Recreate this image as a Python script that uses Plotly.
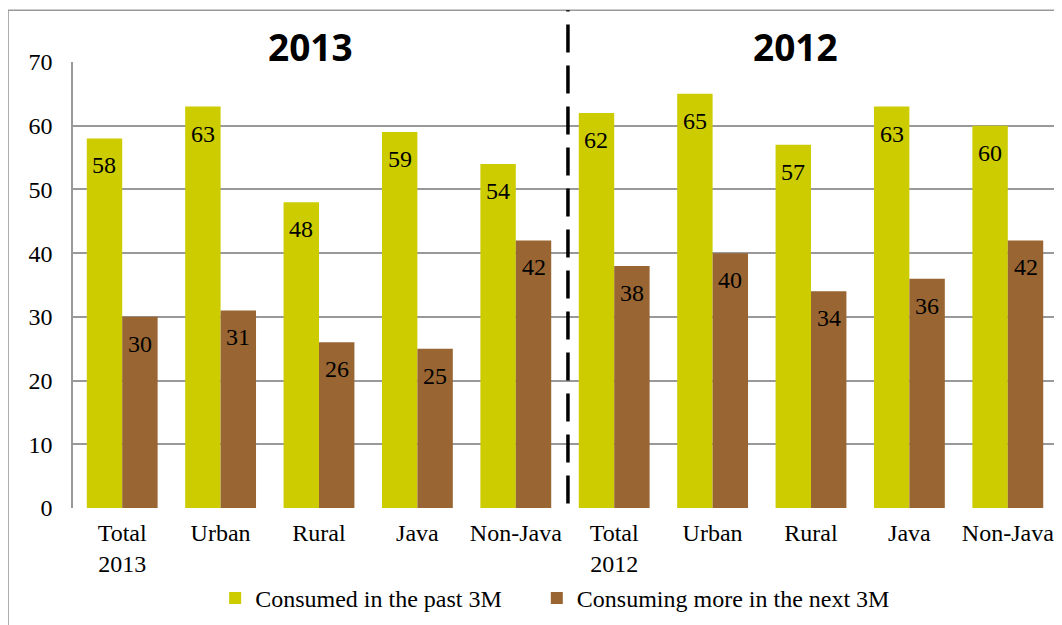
import plotly.graph_objects as go

categories = ["Total<br>2013", "Urban", "Rural", "Java", "Non-Java",
              "Total<br>2012", "Urban", "Rural", "Java", "Non-Java"]
consumed_past = [58, 63, 48, 59, 54, 62, 65, 57, 63, 60]
consuming_next = [30, 31, 26, 25, 42, 38, 40, 34, 36, 42]
y_ticks = [0, 10, 20, 30, 40, 50, 60, 70]
series_names = ["Consumed in the past 3M", "Consuming more in the next 3M"]

xpos = list(range(len(categories)))
serif = "Liberation Serif, Times New Roman, serif"
FS = 24
BARGAP = 0.28
half = (1 - BARGAP) / 4  # offset of each bar centre from category centre

fig = go.Figure()
fig.add_trace(go.Bar(
    x=xpos, y=consumed_past, name=series_names[0] + "\u00a0" * 5,
    marker=dict(color="#CCCC00", line=dict(width=0)),
))
fig.add_trace(go.Bar(
    x=xpos, y=consuming_next, name=series_names[1],
    marker=dict(color="#996633", line=dict(width=0)),
))

# value labels inside the top of each bar
for i in xpos:
    for val, dx in [(consumed_past[i], -half), (consuming_next[i], half)]:
        fig.add_annotation(x=i + dx, y=val, xref="x", yref="y", text=str(val),
                           showarrow=False, yshift=-27, xanchor="center", yanchor="middle",
                           font=dict(family=serif, size=FS, color="black"))

fig.update_layout(
    width=1054, height=617,
    margin=dict(l=65, r=5, t=54, b=116),
    paper_bgcolor="white", plot_bgcolor="white",
    barmode="group", bargap=BARGAP, bargroupgap=0,
    font=dict(family=serif, size=FS, color="black"),
    showlegend=True,
    legend=dict(orientation="h", x=0.49, xanchor="center", y=-0.2, yanchor="middle",
                font=dict(family=serif, size=FS), itemwidth=30, traceorder="normal"),
)
fig.update_xaxes(
    tickmode="array", tickvals=xpos, ticktext=categories,
    range=[-0.5, len(categories) - 0.5], showgrid=False, zeroline=False,
    showline=False, ticks="", tickfont=dict(family=serif, size=FS), ticklabelstandoff=8,
)
fig.update_yaxes(
    range=[0, 70], tickvals=y_ticks, showgrid=True, gridcolor="#999999", gridwidth=1.5,
    zeroline=False, showline=True, linecolor="#999999", linewidth=1.5,
    ticks="", tickfont=dict(family=serif, size=FS), ticklabelstandoff=14,
)
# outer chart border
fig.add_shape(type="line", xref="paper", yref="paper", x0=-0.066, x1=-0.066, y0=-0.3, y1=1.116,
              line=dict(color="#999999", width=1.5))
fig.add_shape(type="line", xref="paper", yref="paper", x0=-0.066, x1=1.01, y0=1.116, y1=1.116,
              line=dict(color="#999999", width=1.5))
# dashed separator
fig.add_shape(type="line", xref="x", yref="paper", x0=4.53, x1=4.53, y0=0.01, y1=1.116,
              line=dict(color="black", width=3.5, dash="28px,13px"))
for txt, xp in [("2013", 0.241), ("2012", 0.734)]:
    fig.add_annotation(text=txt, xref="paper", yref="paper", x=xp, y=1.034,
                       showarrow=False, xanchor="center", yanchor="middle",
                       font=dict(family="Open Sans, DejaVu Sans, sans-serif", size=37,
                                 color="black", weight="bold"))

fig.write_html("out.html")
